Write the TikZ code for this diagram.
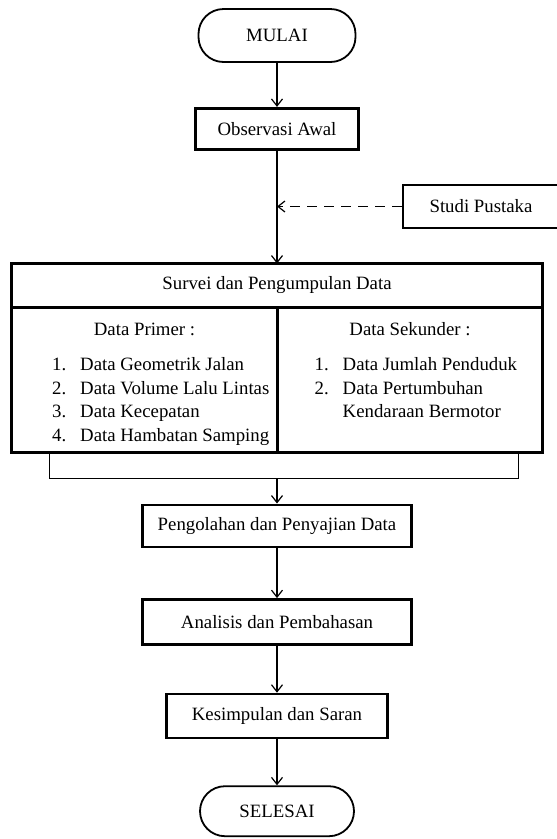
\documentclass[tikz,border=0pt]{standalone}
\usepackage{fontspec}
\setmainfont{Liberation Serif}
\usetikzlibrary{positioning, arrows.meta, calc}

\begin{document}
\begin{tikzpicture}
	\tikzset{
		>={Straight Barb[length=7pt,width=11pt]},
		terminal/.style={draw, line width=1.8pt, rounded corners=25pt, minimum width=157pt, minimum height=53pt},
		box/.style={draw, line width=2.6pt, align=center, minimum height=42pt},
		panel/.style={draw, line width=2.6pt, minimum height=145pt, outer sep=0pt},
		isi/.style={inner sep=0pt, align=left},
		flow/.style={line width=1.2pt},
		every node/.style={font=\fontsize{18.8}{23.5}\selectfont}
	}

	\useasboundingbox (0,0) rectangle (557pt,-839pt);

	% Start and first step
	\node[terminal] (mulai) at (277pt,-35.5pt) {MULAI};
	\node[box, minimum width=163pt, minimum height=41pt, below=44pt of mulai] (observasi) {Observasi Awal};

	% Literature study
	\node[box, minimum width=156pt, minimum height=43pt] (pustaka) at (481pt,-206.5pt) {Studi Pustaka};
	\coordinate (gabung) at (observasi |- pustaka);

	% Survey and data collection
	\node[box, outer sep=0pt, minimum width=531pt, minimum height=44pt, below=113pt of observasi] (survei) {Survei dan Pengumpulan Data};
	\node[panel, minimum width=266pt, below right=0pt and 0pt of survei.south west] (primer) {};
	\node[panel, minimum width=265pt, below right=0pt and 0pt of primer.north east] (sekunder) {};

	% Primary data
	\node[isi, below=15pt of primer.north] (judulprimer) {Data Primer :};
	\node[isi, below right=50pt and 40.5pt of primer.north west] (listprimer) {%
		\makebox[28pt][l]{1.}Data Geometrik Jalan\\
		\makebox[28pt][l]{2.}Data Volume Lalu Lintas\\
		\makebox[28pt][l]{3.}Data Kecepatan\\
		\makebox[28pt][l]{4.}Data Hambatan Samping};

	% Secondary data
	\node[isi, below=15pt of sekunder.north] (judulsekunder) {Data Sekunder :};
	\node[isi, below right=50pt and 37pt of sekunder.north west] (listsekunder) {%
		\makebox[28pt][l]{1.}Data Jumlah Penduduk\\
		\makebox[28pt][l]{2.}Data Pertumbuhan\\
		\makebox[28pt][l]{}Kendaraan Bermotor};

	% Collecting bracket
	\coordinate (kiri) at ([xshift=38pt]primer.south west);
	\coordinate (kanan) at ([xshift=-24pt]sekunder.south east);
	\coordinate (bawah) at ([yshift=-26pt]kiri);
	\coordinate (kumpul) at (bawah -| survei);

	% Processing steps
	\node[box, minimum width=269pt, below=25pt of kumpul] (olah) {Pengolahan dan Penyajian Data};
	\node[box, minimum width=269pt, minimum height=45pt, below=50pt of olah] (analisis) {Analisis dan Pembahasan};
	\node[box, minimum width=221pt, minimum height=44pt, below=47pt of analisis] (simpul) {Kesimpulan dan Saran};
	\node[terminal, minimum width=154pt, minimum height=50pt, below=46pt of simpul] (selesai) {SELESAI};

	% Connectors
	\draw[flow, ->] (mulai) -- (observasi);
	\draw[flow, ->] (observasi) -- (survei);
	\draw[flow, dash pattern=on 10pt off 7pt, ->] (pustaka) -- (gabung);
	\draw[flow] (kiri) -- (bawah) -| (kanan);
	\draw[flow, ->] (kumpul) -- (olah);
	\draw[flow, ->] (olah) -- (analisis);
	\draw[flow, ->] (analisis) -- (simpul);
	\draw[flow, ->] (simpul) -- (selesai);

\end{tikzpicture}
\end{document}
